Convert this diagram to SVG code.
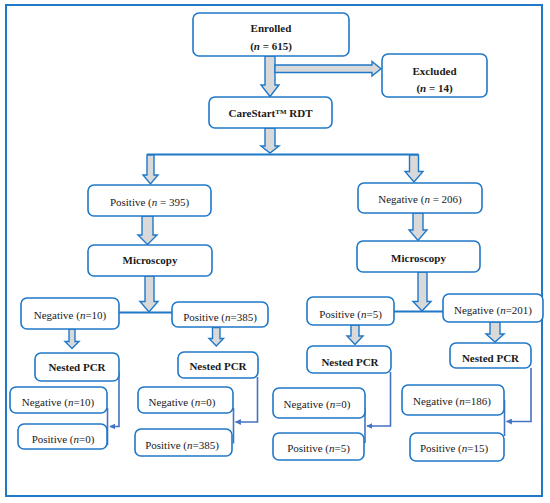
<svg xmlns="http://www.w3.org/2000/svg" width="550" height="503" viewBox="0 0 550 503">
<style>
.box{fill:#fff;stroke:#1f78c8;stroke-width:1.6}
.ba{fill:#d9d9d9;stroke:#1f78c8;stroke-width:1.4;stroke-linejoin:miter}
.ln{fill:none;stroke:#1f78c8;stroke-width:2}
.cn{fill:none;stroke:#4472c4;stroke-width:1.6}
text{font-family:"Liberation Serif","Times New Roman",serif;font-size:11px;fill:#1a1a1a;text-anchor:middle}
.b{font-weight:bold}
.i{font-style:italic}
</style>
<defs>
<marker id="ah" viewBox="0 0 10 10" refX="9" refY="5" markerWidth="6" markerHeight="6" orient="auto" markerUnits="userSpaceOnUse">
<path d="M0,0 L10,5 L0,10 Z" fill="#4472c4"/>
</marker>
</defs>
<rect x="6" y="5" width="536" height="491" fill="#fff" stroke="#1f78c8" stroke-width="2"/>

<g id="connectors">
<path class="ba" d="M265,56 H275 V85 H279 L270,96.5 L261,85 H265 Z"/>
<path class="ba" d="M275,65 H372 V61.5 L381,68.8 L372,76 V72.5 H275 Z"/>
<path class="ba" d="M265,128 H275 V146 H279 L270,153 L261,146 H265 Z"/>
<path class="ln" d="M147,154.5 H418.5"/>
<path class="ba" d="M147,155 H154 V175 H158 L150.5,184 L143,175 H147 Z"/>
<path class="ba" d="M409.5,155 H418.5 V171.5 H423 L414,182 L405,171.5 H409.5 Z"/>
<path class="ba" d="M142,216 H153 V235 H157 L147.5,244.5 L138,235 H142 Z"/>
<path class="ba" d="M413,213 H423 V230 H427 L418,240.5 L409,230 H413 Z"/>
<path class="ba" d="M145,276 H154 V301.5 H158 L149,312 L140,301.5 H145 Z"/>
<path class="ba" d="M418,272 H427 V301.5 H431 L422,311 L413,301.5 H418 Z"/>
<path class="ln" d="M119,312.5 H172"/>
<path class="ln" d="M394,311.5 H443"/>
<path class="ba" d="M69,329 H75 V341.5 H79 L72,348.5 L65,341.5 H69 Z"/>
<path class="ba" d="M212.5,327.5 H220 V338.5 H223.5 L216.3,346 L209,338.5 H212.5 Z"/>
<path class="ba" d="M351,325 H359 V336 H363 L355,344.5 L347,336 H351 Z"/>
<path class="ba" d="M490,322 H500 V334 H504 L495,342 L486,334 H490 Z"/>
<path class="cn" d="M119,372 V426.5 H110" marker-end="url(#ah)"/>
<path class="cn" d="M107.5,408 V445"/>
<path class="cn" d="M257.5,377 V422 H235.5" marker-end="url(#ah)"/>
<path class="cn" d="M233.5,408 V443.5"/>
<path class="cn" d="M390.5,372 V426 H367" marker-end="url(#ah)"/>
<path class="cn" d="M365,408 V443"/>
<path class="cn" d="M531,368 V421.5 H506.5" marker-end="url(#ah)"/>
<path class="cn" d="M504.5,400 V436"/>
</g>

<g id="enrolled"><rect class="box" x="193" y="13" width="156" height="43" rx="6"/>
<text class="b" x="271" y="32">Enrolled</text>
<text class="b" x="271" y="50">(<tspan class="i">n</tspan> = 615)</text></g>
<g id="excluded"><rect class="box" x="382" y="54" width="105" height="43" rx="6"/>
<text class="b" x="434.5" y="75">Excluded</text>
<text class="b" x="434.5" y="92">(<tspan class="i">n</tspan> = 14)</text></g>
<g id="carestart"><rect class="box" x="209" y="97" width="123" height="31" rx="6"/>
<text class="b" x="270.5" y="117">CareStart<tspan font-size="7" dy="-3.5">TM</tspan><tspan dy="3.5"> RDT</tspan></text></g>

<g id="pos395"><rect class="box" x="88" y="185" width="123" height="31" rx="6"/>
<text x="149.5" y="205.5">Positive (<tspan class="i">n</tspan> = 395)</text></g>
<g id="neg206"><rect class="box" x="358" y="183" width="124" height="30" rx="6"/>
<text x="420" y="203">Negative (<tspan class="i">n</tspan> = 206)</text></g>
<g id="microL"><rect class="box" x="88" y="245" width="124" height="31" rx="6"/>
<text class="b" x="150" y="264">Microscopy</text></g>
<g id="microR"><rect class="box" x="357" y="241" width="123" height="31" rx="6"/>
<text class="b" x="418.5" y="262">Microscopy</text></g>

<g id="neg10"><rect class="box" x="21" y="298" width="98" height="31" rx="6"/>
<text x="70" y="318.5">Negative (<tspan class="i">n</tspan>=10)</text></g>
<g id="pos385"><rect class="box" x="172" y="302" width="96" height="25" rx="6"/>
<text x="220" y="321">Positive (<tspan class="i">n</tspan>=385)</text></g>
<g id="pos5"><rect class="box" x="307" y="297" width="87" height="28" rx="6"/>
<text x="350.5" y="317.5">Positive (<tspan class="i">n</tspan>=5)</text></g>
<g id="neg201"><rect class="box" x="443" y="294" width="100" height="28" rx="6"/>
<text x="493" y="313.5">Negative (<tspan class="i">n</tspan>=201)</text></g>

<g id="pcr1"><rect class="box" x="35" y="353" width="84" height="28" rx="6"/>
<text class="b" x="77" y="371">Nested PCR</text></g>
<g id="pcr2"><rect class="box" x="178" y="352" width="80" height="26" rx="6"/>
<text class="b" x="218" y="370">Nested PCR</text></g>
<g id="pcr3"><rect class="box" x="307" y="346" width="84" height="27" rx="6"/>
<text class="b" x="350" y="366">Nested PCR</text></g>
<g id="pcr4"><rect class="box" x="450" y="343" width="81" height="25" rx="6"/>
<text class="b" x="490.5" y="362">Nested PCR</text></g>

<g id="neg10b"><rect class="box" x="10" y="387" width="97" height="26" rx="6"/>
<text x="58" y="406">Negative (<tspan class="i">n</tspan>=10)</text></g>
<g id="pos0"><rect class="box" x="18" y="424" width="89" height="25" rx="6"/>
<text x="63" y="443">Positive (<tspan class="i">n</tspan>=0)</text></g>
<g id="neg0a"><rect class="box" x="138" y="387" width="95" height="26" rx="6"/>
<text x="182" y="406">Negative (<tspan class="i">n</tspan>=0)</text></g>
<g id="pos385b"><rect class="box" x="135" y="429" width="97" height="27" rx="6"/>
<text x="182" y="448.5">Positive (<tspan class="i">n</tspan>=385)</text></g>
<g id="neg0b"><rect class="box" x="273" y="388" width="92" height="30" rx="6"/>
<text x="317" y="407.5">Negative (<tspan class="i">n</tspan>=0)</text></g>
<g id="pos5b"><rect class="box" x="273" y="433" width="91" height="27" rx="6"/>
<text x="318.5" y="452">Positive (<tspan class="i">n</tspan>=5)</text></g>
<g id="neg186"><rect class="box" x="402" y="385" width="102" height="30" rx="6"/>
<text x="452" y="404.5">Negative (<tspan class="i">n</tspan>=186)</text></g>
<g id="pos15"><rect class="box" x="410" y="433" width="94" height="28" rx="6"/>
<text x="454" y="452">Positive (<tspan class="i">n</tspan>=15)</text></g>
</svg>
